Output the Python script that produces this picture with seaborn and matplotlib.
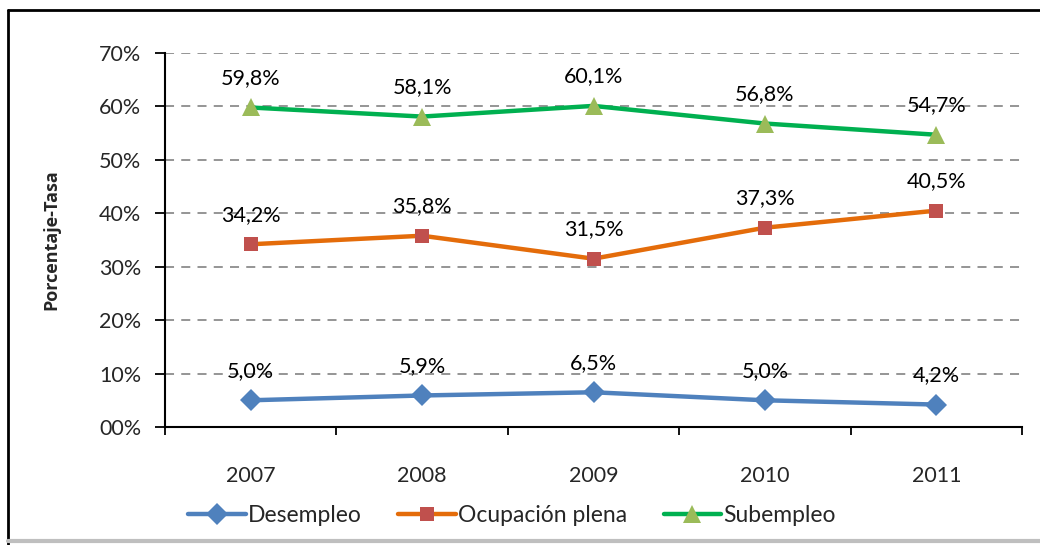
import matplotlib
matplotlib.use("Agg")
import matplotlib.pyplot as plt
from matplotlib.lines import Line2D
import seaborn as sns
import pandas as pd

years = ["2007", "2008", "2009", "2010", "2011"]
desempleo = [5.0, 5.9, 6.5, 5.0, 4.2]
ocupacion_plena = [34.2, 35.8, 31.5, 37.3, 40.5]
subempleo = [59.8, 58.1, 60.1, 56.8, 54.7]
y_ticks = [0, 10, 20, 30, 40, 50, 60, 70]
y_tick_labels = ["00%", "10%", "20%", "30%", "40%", "50%", "60%", "70%"]

series = [
    ("Desempleo", desempleo, "#4F81BD", "#4F81BD", "D", 11),
    ("Ocupación plena", ocupacion_plena, "#E46C0A", "#C0504D", "s", 10),
    ("Subempleo", subempleo, "#00B050", "#9BBB59", "^", 13),
]

sns.set_theme(style="white")
plt.rcParams["font.family"] = ["Lato", "DejaVu Sans"]

fig = plt.figure(figsize=(10.4, 5.45), dpi=100)
ax = fig.add_axes([165 / 1040, 1 - 427 / 545, (1022 - 165) / 1040, (427 - 53) / 545])

for name, vals, lc, mc, mk, ms in series:
    df = pd.DataFrame({"Año": years, "Valor": vals})
    sns.lineplot(data=df, x="Año", y="Valor", ax=ax, color=lc, linewidth=3.2,
                 marker=mk, markersize=ms, markerfacecolor=mc, markeredgecolor=mc,
                 markeredgewidth=0, label=name, legend=False)
    for i, v in enumerate(vals):
        ax.annotate(f"{v:.1f}%".replace(".", ","), (i, v), xytext=(0, 14),
                    textcoords="offset points", ha="center", va="bottom",
                    fontsize=15.5, color="black")

ax.set_xlim(-0.5, 4.5)
ax.set_ylim(0, 70)
ax.set_yticks(y_ticks)
ax.set_yticklabels(y_tick_labels, fontsize=15.5)
ax.set_xticks(range(len(years)))
ax.set_xticklabels(years, fontsize=15.5)
ax.tick_params(axis="x", which="major", bottom=True, length=0, pad=28)
ax.set_xticks([i - 0.5 for i in range(len(years) + 1)], minor=True)
ax.tick_params(axis="x", which="minor", bottom=True, length=6, width=1.3,
               color="black", direction="out")
ax.tick_params(axis="y", which="major", left=True, length=7, width=1.3,
               color="black", direction="out", pad=10)
for y in y_ticks[1:]:
    ax.axhline(y, color="#8C8C8C", linestyle=(0, (5, 4)), linewidth=1.3, zorder=0)
ax.set_xlabel("")
ax.set_ylabel("Porcentaje-Tasa", fontsize=13, fontweight="bold", labelpad=28,
              family=["Open Sans", "DejaVu Sans"])
for s in ["top", "right"]:
    ax.spines[s].set_visible(False)
for s in ["left", "bottom"]:
    ax.spines[s].set_color("black")
    ax.spines[s].set_linewidth(1.5)

handles = [Line2D([0], [0], color=lc, linewidth=3.2, marker=mk, markersize=ms,
                  markerfacecolor=mc, markeredgewidth=0) for _, _, lc, mc, mk, ms in series]
fig.legend(handles, [s[0] for s in series], loc="center", bbox_to_anchor=(512 / 1040, 1 - 516 / 545),
           ncol=3, frameon=False, fontsize=16.5, handlelength=2.5, handletextpad=0.1,
           columnspacing=1.6)

# chart frame
fig.add_artist(Line2D([8 / 1040, 8 / 1040], [0, 1 - 10 / 545], transform=fig.transFigure,
                      color="black", linewidth=2))
fig.add_artist(Line2D([8 / 1040, 1], [1 - 10 / 545, 1 - 10 / 545], transform=fig.transFigure,
                      color="black", linewidth=2))
fig.add_artist(Line2D([8 / 1040, 1], [1 - 541 / 545, 1 - 541 / 545], transform=fig.transFigure,
                      color="#BFBFBF", linewidth=3))

fig.savefig("out.png", dpi=100, facecolor="white")
